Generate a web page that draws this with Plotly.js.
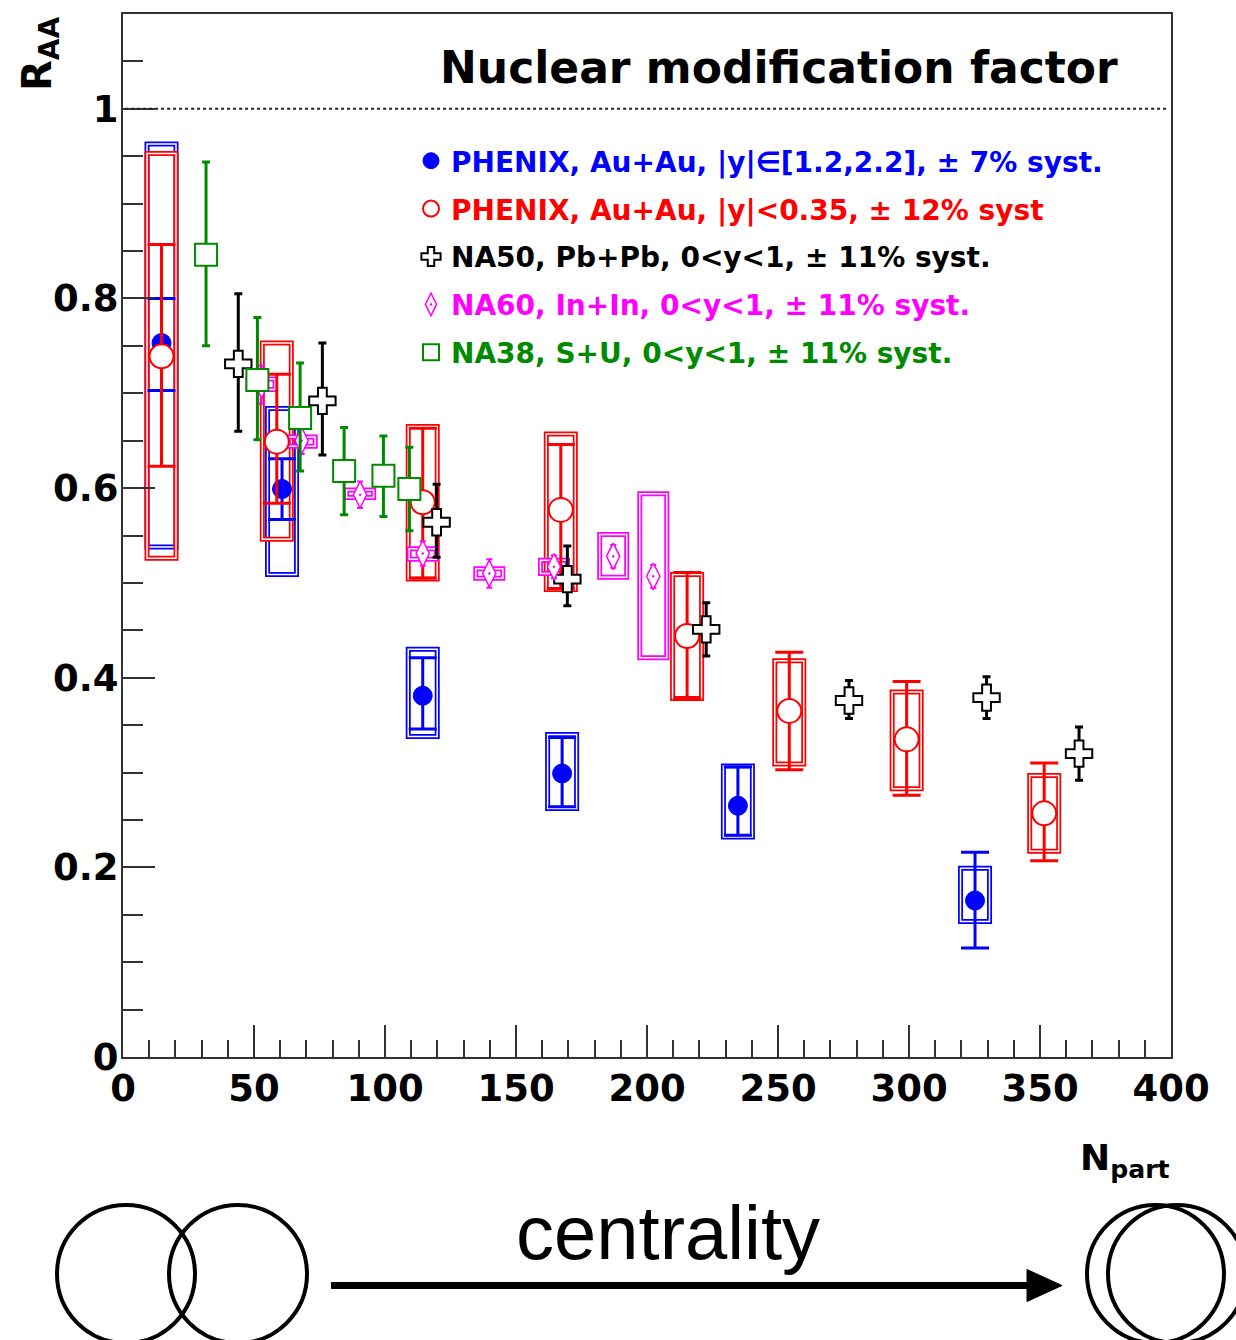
<!DOCTYPE html>
<html>
<head>
<meta charset="utf-8">
<script src="https://cdn.plot.ly/plotly-3.0.1.min.js"></script>
<style>html,body{margin:0;padding:0;background:#fff;}#chart{width:1236px;height:1340px;}</style>
</head>
<body>
<div id="chart"></div>
<script>
// ---------------- DATA ----------------
// PHENIX Au+Au forward rapidity |y| in [1.2,2.2]
const phenixFwdNpart   = [14.7, 60.7, 114.4, 167.6, 234.7, 325.2];
const phenixFwdRaa     = [0.753, 0.599, 0.381, 0.299, 0.265, 0.165];
const phenixFwdStatHi  = [0.800, 0.631, 0.421, 0.337, 0.306, 0.216];
const phenixFwdStatLo  = [0.703, 0.567, 0.346, 0.264, 0.234, 0.115];
const phenixFwdSysHi   = [0.963, 0.684, 0.430, 0.340, 0.307, 0.199];
const phenixFwdSysLo   = [0.538, 0.509, 0.338, 0.262, 0.232, 0.143];

// PHENIX Au+Au mid rapidity |y|<0.35
const phenixMidNpart   = [14.7, 58.7, 114.4, 167.1, 215.3, 254.3, 299.1, 351.6];
const phenixMidRaa     = [0.739, 0.649, 0.585, 0.577, 0.444, 0.365, 0.335, 0.257];
const phenixMidStatHi  = [0.857, 0.720, 0.663, 0.646, 0.511, 0.427, 0.396, 0.310];
const phenixMidStatLo  = [0.623, 0.584, 0.505, 0.494, 0.378, 0.303, 0.276, 0.207];
const phenixMidSysHi   = [0.953, 0.753, 0.665, 0.657, 0.509, 0.418, 0.385, 0.297];
const phenixMidSysLo   = [0.526, 0.546, 0.504, 0.493, 0.378, 0.309, 0.283, 0.217];

// NA50 Pb+Pb
const na50Npart  = [44.0, 76.1, 119.7, 169.6, 222.6, 277.1, 329.6, 364.9];
const na50Raa    = [0.731, 0.692, 0.564, 0.504, 0.451, 0.376, 0.379, 0.320];
const na50StatHi = [0.805, 0.753, 0.604, 0.539, 0.479, 0.397, 0.401, 0.348];
const na50StatLo = [0.660, 0.635, 0.527, 0.476, 0.423, 0.357, 0.357, 0.292];

// NA60 In+In
const na60Npart  = [52.9, 68.2, 90.5, 114.4, 139.8, 164.5, 187.1, 202.4];
const na60Raa    = [0.709, 0.650, 0.593, 0.531, 0.510, 0.517, 0.528, 0.507];
const na60StatHi = [0.729, 0.664, 0.607, 0.544, 0.525, 0.529, 0.540, 0.519];
const na60StatLo = [0.689, 0.636, 0.579, 0.518, 0.495, 0.505, 0.516, 0.495];
const na60SysHi  = [0.715, 0.654, 0.598, 0.536, 0.515, 0.524, 0.551, 0.594];
const na60SysLo  = [0.704, 0.644, 0.590, 0.525, 0.505, 0.510, 0.506, 0.421];

// NA38 S+U
const na38Npart  = [31.7, 51.3, 67.6, 84.4, 99.4, 109.3];
const na38Raa    = [0.846, 0.714, 0.674, 0.618, 0.613, 0.599];
const na38StatHi = [0.944, 0.780, 0.732, 0.664, 0.655, 0.643];
const na38StatLo = [0.750, 0.651, 0.618, 0.572, 0.570, 0.555];

const seriesNames = [
  'PHENIX, Au+Au, |y|∈[1.2,2.2], ± 7% syst.',
  'PHENIX, Au+Au, |y|<0.35, ± 12% syst',
  'NA50, Pb+Pb, 0<y<1, ± 11% syst.',
  'NA60, In+In, 0<y<1, ± 11% syst.',
  'NA38, S+U, 0<y<1, ± 11% syst.'
];
const xTickVals = [0, 50, 100, 150, 200, 250, 300, 350, 400];
const yTickVals = [0, 0.2, 0.4, 0.6, 0.8, 1];

// ---------------- STYLE / LAYOUT ----------------
const BLUE = '#0000ff', RED = '#ff0000', BLACK = '#000000', MAG = '#ff00ff', GREEN = '#008a00';
const ML = 123, MR = 65, MT = 14, MB = 283, W = 1236, H = 1340;
const plotW = W - ML - MR, plotH = H - MT - MB;
function PX(px) { return (px - ML) / plotW; }
function PY(py) { return (H - MB - py) / plotH; }

function upErr(hi, y) { return hi.map((v, i) => v - y[i]); }
function dnErr(lo, y) { return lo.map((v, i) => y[i] - v); }
function leg(name, color) { return '<span style="color:' + color + '"><b>' + name + '</b></span>'; }

const traces = [
  {
    x: phenixFwdNpart, y: phenixFwdRaa, type: 'scatter', mode: 'markers',
    name: leg(seriesNames[0], BLUE), legendgroup: 'g1',
    marker: { symbol: 'circle', size: 19, color: BLUE, line: { color: BLUE, width: 1 } },
    error_y: { type: 'data', symmetric: false, array: upErr(phenixFwdStatHi, phenixFwdRaa),
      arrayminus: dnErr(phenixFwdStatLo, phenixFwdRaa), color: BLUE, thickness: 3, width: 14 }
  },
  {
    x: phenixMidNpart, y: phenixMidRaa, type: 'scatter', mode: 'markers',
    name: leg(seriesNames[1], RED), legendgroup: 'g2',
    marker: { symbol: 'circle', size: 24, color: '#ffffff', line: { color: RED, width: 2 } },
    error_y: { type: 'data', symmetric: false, array: upErr(phenixMidStatHi, phenixMidRaa),
      arrayminus: dnErr(phenixMidStatLo, phenixMidRaa), color: RED, thickness: 3, width: 14 }
  },
  {
    x: na50Npart, y: na50Raa, type: 'scatter', mode: 'markers',
    name: leg(seriesNames[2], BLACK), legendgroup: 'g3',
    marker: { symbol: 'cross', size: 22, color: '#ffffff', line: { color: BLACK, width: 2 } },
    error_y: { type: 'data', symmetric: false, array: upErr(na50StatHi, na50Raa),
      arrayminus: dnErr(na50StatLo, na50Raa), color: BLACK, thickness: 3, width: 4 }
  },
  {
    x: na60Npart, y: na60Raa, type: 'scatter', mode: 'markers',
    name: leg(seriesNames[3], MAG), legendgroup: 'g4',
    marker: { symbol: 'diamond-tall-dot', size: 19, color: '#ffffff', line: { color: MAG, width: 1.5 } },
    error_y: { type: 'data', symmetric: false, array: upErr(na60StatHi, na60Raa),
      arrayminus: dnErr(na60StatLo, na60Raa), color: MAG, thickness: 2, width: 3 }
  },
  {
    x: na38Npart, y: na38Raa, type: 'scatter', mode: 'markers',
    name: leg(seriesNames[4], GREEN), legendgroup: 'g5',
    marker: { symbol: 'square', size: 22, color: '#ffffff', line: { color: GREEN, width: 2 } },
    error_y: { type: 'data', symmetric: false, array: upErr(na38StatHi, na38Raa),
      arrayminus: dnErr(na38StatLo, na38Raa), color: GREEN, thickness: 3, width: 4 }
  }
];

const shapes = [];
function addBoxes(xs, lo, hi, color, halfPx) {
  xs.forEach((xv, i) => {
    const base = { type: 'rect', xref: 'x', yref: 'y', xsizemode: 'pixel', xanchor: xv,
      x0: -halfPx, x1: halfPx, y0: lo[i], y1: hi[i], layer: 'below', fillcolor: 'rgba(0,0,0,0)' };
    shapes.push(Object.assign({}, base, { line: { color: color, width: 5 } }));
    shapes.push(Object.assign({}, base, { line: { color: '#ffffff', width: 1.5 } }));
  });
}
addBoxes(phenixFwdNpart, phenixFwdSysLo, phenixFwdSysHi, BLUE, 14.5);
addBoxes(phenixMidNpart, phenixMidSysLo, phenixMidSysHi, RED, 14.5);
addBoxes(na60Npart, na60SysLo, na60SysHi, MAG, 13.5);

// dotted line at R_AA = 1
shapes.push({ type: 'line', xref: 'paper', yref: 'y', x0: 0.002, x1: 0.998, y0: 1, y1: 1,
  line: { color: '#222', width: 2, dash: 'dot' }, layer: 'above' });

// collision schematic below the plot
function circ(x0, x1, y0, y1) {
  return { type: 'circle', xref: 'paper', yref: 'paper', x0: PX(x0), x1: PX(x1), y0: PY(y1), y1: PY(y0),
    line: { color: '#000', width: 4 }, fillcolor: 'rgba(0,0,0,0)' };
}
shapes.push(circ(57, 195, 1205, 1343));
shapes.push(circ(169, 307, 1205, 1343));
shapes.push(circ(1087, 1224, 1205, 1343));
shapes.push(circ(1108, 1246, 1205, 1343));
shapes.push({ type: 'line', xref: 'paper', yref: 'paper', x0: PX(331), x1: PX(1032), y0: PY(1285.5), y1: PY(1285.5),
  line: { color: '#000', width: 7 } });
shapes.push({ type: 'path', xref: 'paper', yref: 'paper',
  path: 'M ' + PX(1027) + ' ' + PY(1269.5) + ' L ' + PX(1062) + ' ' + PY(1285.5) + ' L ' + PX(1027) + ' ' + PY(1301.5) + ' Z',
  fillcolor: '#000', line: { color: '#000', width: 1 } });

const annotations = [
  { text: '<b>Nuclear modification factor</b>', xref: 'paper', yref: 'paper', x: PX(779), y: PY(67),
    xanchor: 'center', yanchor: 'middle', showarrow: false,
    font: { family: 'DejaVu Sans', size: 44, color: '#000' } },
  { text: '<b>R<sub>AA</sub></b>', xref: 'paper', yref: 'paper', x: PX(40), y: PY(54),
    xanchor: 'center', yanchor: 'middle', showarrow: false, textangle: -90,
    font: { family: 'DejaVu Sans', size: 40, color: '#000' } },
  { text: '<b>N<sub>part</sub></b>', xref: 'paper', yref: 'paper', x: PX(1125), y: PY(1160),
    xanchor: 'center', yanchor: 'middle', showarrow: false,
    font: { family: 'DejaVu Sans', size: 36, color: '#000' } },
  { text: 'centrality', xref: 'paper', yref: 'paper', x: PX(668), y: PY(1233),
    xanchor: 'center', yanchor: 'middle', showarrow: false,
    font: { family: 'Liberation Sans', size: 76, color: '#000' } }
];

const layout = {
  width: W, height: H,
  margin: { l: ML, r: MR, t: MT, b: MB, pad: 0 },
  paper_bgcolor: '#ffffff', plot_bgcolor: '#ffffff',
  showlegend: true,
  legend: { x: PX(411), y: PY(136), xanchor: 'left', yanchor: 'top', bgcolor: 'rgba(0,0,0,0)',
    borderwidth: 0, font: { family: 'DejaVu Sans', size: 28 }, traceorder: 'grouped', tracegroupgap: 8.5 },
  xaxis: {
    range: [0, 400], tickvals: xTickVals, ticktext: xTickVals.map(String),
    ticks: 'inside', ticklen: 32, tickwidth: 2, tickcolor: '#333',
    minor: { dtick: 10, ticks: 'inside', ticklen: 17, tickwidth: 2, tickcolor: '#333', showgrid: false },
    showline: true, linecolor: '#333', linewidth: 2, mirror: true, showgrid: false, zeroline: false,
    ticklabelstandoff: -2,
    tickfont: { family: 'DejaVu Sans', size: 37, color: '#000', weight: 'bold' }
  },
  yaxis: {
    range: [0, 1.1], tickvals: yTickVals, ticktext: yTickVals.map(String),
    ticks: 'inside', ticklen: 32, tickwidth: 2, tickcolor: '#333',
    minor: { dtick: 0.05, ticks: 'inside', ticklen: 20, tickwidth: 2, tickcolor: '#333', showgrid: false },
    showline: true, linecolor: '#333', linewidth: 2, mirror: true, showgrid: false, zeroline: false,
    ticklabelstandoff: -5,
    tickfont: { family: 'DejaVu Sans', size: 37, color: '#000', weight: 'bold' }
  },
  shapes: shapes,
  annotations: annotations
};

Plotly.newPlot('chart', traces, layout, { displayModeBar: false, staticPlot: true });
</script>
</body>
</html>
